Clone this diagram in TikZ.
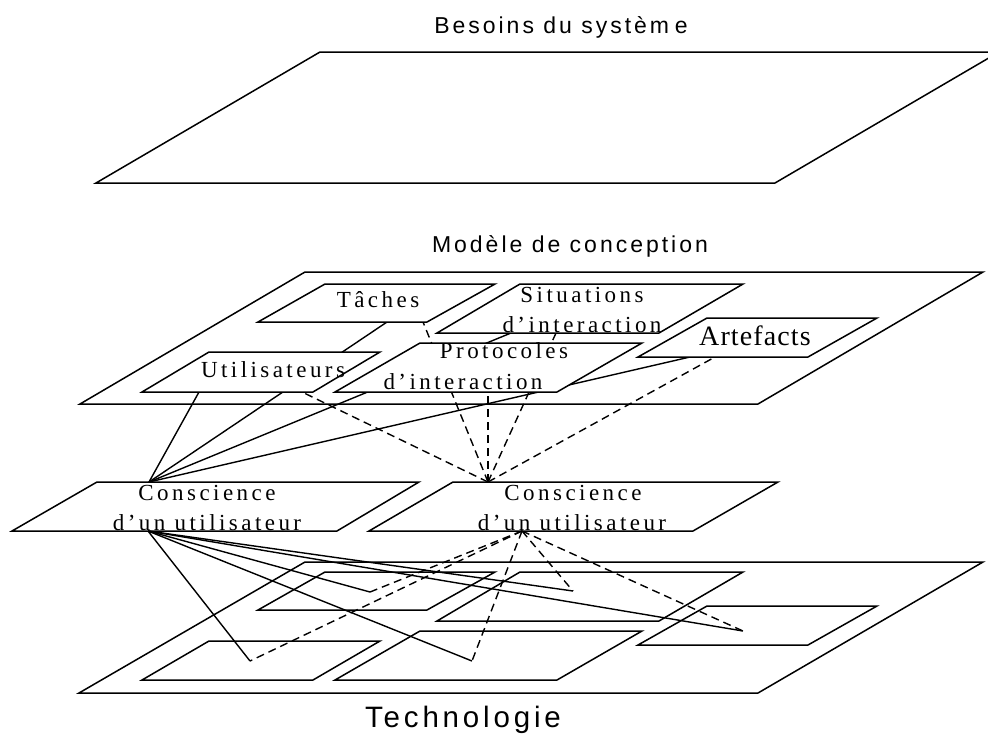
\documentclass[tikz,border=0pt]{standalone}
\usepackage{fontspec}
\newfontfamily\layerfont[LetterSpace=13]{Liberation Sans}
\newfontfamily\boxfont[LetterSpace=15]{Liberation Serif}
\newfontfamily\artfont[LetterSpace=4]{Liberation Serif}

\begin{document}
\begin{tikzpicture}[x=1pt,y=-1pt,
  plane/.style={draw=black,fill=white,line width=1.5pt},
  slab/.style={draw=black,fill=white,line width=1.5pt},
  link/.style={draw=black,line width=1.4pt},
  dlink/.style={draw=black,line width=1.4pt,dash pattern=on 8pt off 5pt},
  layertitle/.style={inner sep=0pt,anchor=base,font=\layerfont\fontsize{23}{28}\selectfont},
  bigtitle/.style={inner sep=0pt,anchor=base,font=\layerfont\fontsize{29.5}{34}\selectfont},
  boxtext/.style={inner sep=0pt,anchor=base,font=\boxfont\fontsize{23}{28}\selectfont},
  arttext/.style={inner sep=0pt,anchor=base,font=\artfont\fontsize{28}{32}\selectfont},
]
\useasboundingbox (0,0) rectangle (988,734);
\fill[white] (0,0) rectangle (988,734);

% three layers
\path[plane] (96,183) -- (775,183) -- (999,52) -- (320,52) -- cycle;
\path[plane] (80,404) -- (758,404) -- (983,272) -- (305,272) -- cycle;
\path[plane] (79,693) -- (758,693) -- (983,562) -- (305,562) -- cycle;

% anchor points of the connectors
\coordinate (c1n) at (149,482);
\coordinate (c2n) at (488,482);
\coordinate (c1s) at (148,531);
\coordinate (c2s) at (522,531);
\coordinate (uti1) at (199,392);
\coordinate (uti2) at (302,392);
\coordinate (tac1) at (387,322);
\coordinate (tac2) at (423,322);
\coordinate (sit1) at (511,333);
\coordinate (sit2) at (556,333);
\coordinate (art1) at (690,357);
\coordinate (art2) at (715,357);
\coordinate (pro2) at (488,392);
\coordinate (tD) at (250,661);
\coordinate (tA) at (370,592);
\coordinate (tE) at (472,661);
\coordinate (tB) at (573,591);
\coordinate (tC) at (743,631);

% links up to the design model (partly hidden by its boxes)
\draw[link] (c1n) -- (uti1);
\draw[link] (c1n) -- (tac1);
\draw[link] (c1n) -- (sit1);
\draw[link] (c1n) -- (art1);
\draw[dlink] (c2n) -- (uti2);
\draw[dlink] (c2n) -- (tac2);
\draw[dlink] (c2n) -- (pro2);
\draw[dlink] (c2n) -- (sit2);
\draw[dlink] (c2n) -- (art2);

% design model boxes
\path[slab] (258,322) -- (427,322) -- (495,284) -- (325,284) -- cycle;
\path[slab] (437,333) -- (659,333) -- (743,284) -- (520,284) -- cycle;
\path[slab] (638,357) -- (808,357) -- (877,318) -- (707,318) -- cycle;
\path[slab] (142,392) -- (313,392) -- (380,352) -- (209,352) -- cycle;
\path[slab] (335,392) -- (557,392) -- (642,343) -- (420,343) -- cycle;

\node[boxtext] (taches) at (378,307) {Tâches};
\node[boxtext] (sitA) at (582,302) {Situations};
\node[boxtext] (sitB) at (582,332) {d’interaction};
\node[arttext] (artef) at (755,345) {Artefacts};
\node[boxtext] (util) at (273,377) {Utilisateurs};
\node[boxtext] (proA) at (504,358) {Protocoles};
\node[boxtext] (proB) at (463,389) {d’interaction};

% awareness boxes
\path[slab] (12,531) -- (337,531) -- (419,482) -- (97,482) -- cycle;
\path[slab] (369,531) -- (693,531) -- (778,482) -- (453,482) -- cycle;
\node[boxtext] (consA1) at (207,500) {Conscience};
\node[boxtext] (consB1) at (207,530) {d’un utilisateur};
\node[boxtext] (consA2) at (573,500) {Conscience};
\node[boxtext] (consB2) at (572,530) {d’un utilisateur};

% technology boxes
\path[slab] (258,610) -- (427,610) -- (495,572) -- (325,572) -- cycle;
\path[slab] (437,621) -- (659,621) -- (743,572) -- (520,572) -- cycle;
\path[slab] (638,645) -- (808,645) -- (877,606) -- (707,606) -- cycle;
\path[slab] (142,680) -- (313,680) -- (380,641) -- (209,641) -- cycle;
\path[slab] (335,680) -- (557,680) -- (642,631) -- (420,631) -- cycle;

% links down to the technology
\foreach \p in {tD,tA,tE,tB,tC} {
  \draw[link] (c1s) -- (\p);
  \draw[dlink] (c2s) -- (\p);
}

% layer titles
\node[layertitle] (besoins) at (561,33) {Besoins du systèm\hspace{0.25em}e};
\node[layertitle] (modele) at (570,252) {Modèle de conception};
\node[bigtitle] (techno) at (463,727) {Technologie};
\end{tikzpicture}
\end{document}
